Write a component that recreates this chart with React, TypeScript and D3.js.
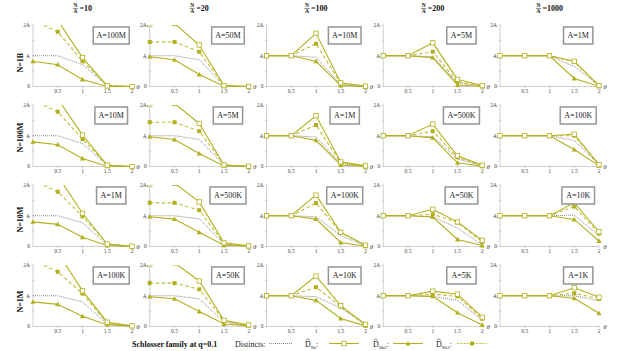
import React from "react";
import * as d3 from "d3";

const thetas = [0, 0.5, 1, 1.5, 2];
const ratioHeaders = ["10", "20", "100", "200", "1000"];
const rowLabels = ["N=1B", "N=100M", "N=10M", "N=1M"];
const sizeLabels = [
  ["A=100M", "A=50M", "A=10M", "A=5M", "A=1M"],
  ["A=10M", "A=5M", "A=1M", "A=500K", "A=100K"],
  ["A=1M", "A=500K", "A=100K", "A=50K", "A=10K"],
  ["A=100K", "A=50K", "A=10K", "A=5K", "A=1K"],
];
const yTickValues = [0, 1, 2];
const yTickLabels = ["0", "A", "2A"];
const yMinorTicks = [0.5, 1.5];
const xTickValues = [0.5, 1, 1.5, 2];
const xTickLabels = ["0.5", "1", "1.5", "2"];

// values in units of A, [row][column][theta]
const distincts = [
  [[1, 1, 0.71, 0.02, 0], [1, 1, 0.87, 0.02, 0], [1, 1, 0.95, 0.05, 0], [1, 1, 0.97, 0.12, 0.01], [1, 1, 1, 0.65, 0.03]],
  [[1, 1, 0.75, 0.03, 0], [1, 1, 0.88, 0.04, 0], [1, 1, 0.96, 0.1, 0.01], [1, 1, 0.97, 0.25, 0.02], [1, 1, 1, 0.85, 0.05]],
  [[1, 1, 0.77, 0.05, 0], [1, 1, 0.9, 0.08, 0], [1, 1, 0.97, 0.35, 0.02], [1, 1, 0.97, 0.6, 0.05], [1, 1, 1, 1.02, 0.35]],
  [[1, 1, 0.8, 0.08, 0.01], [1, 1, 0.9, 0.15, 0.02], [1, 1, 0.97, 0.6, 0.05], [1, 1, 0.98, 0.85, 0.2], [1, 1, 1, 1.0, 0.83]],
];
const dSh = [
  [[2.6, 2.15, 0.94, 0.02, 0], [2.03, 2.05, 1.35, 0.03, 0], [1, 1, 1.73, 0.12, 0.01], [1, 1, 1.42, 0.23, 0.03], [1, 1, 1, 0.82, 0.03]],
  [[2.6, 2.2, 1.02, 0.04, 0], [2.03, 2.05, 1.4, 0.05, 0.01], [1, 1, 1.65, 0.15, 0.02], [1, 1, 1.38, 0.35, 0.04], [1, 1, 1, 1.05, 0.06]],
  [[2.7, 2.3, 1.08, 0.08, 0.01], [2.03, 2.06, 1.45, 0.12, 0.02], [1, 1, 1.67, 0.46, 0.04], [1, 1, 1.21, 0.8, 0.2], [1, 1, 1, 1.42, 0.48]],
  [[2.8, 2.4, 1.16, 0.14, 0.02], [2.03, 2.07, 1.48, 0.2, 0.05], [1, 1, 1.64, 0.68, 0.07], [1, 1, 1.15, 1.05, 0.3], [1, 1, 1, 1.26, 0.95]],
];
const dSh2 = [
  [[0.82, 0.71, 0.23, 0, 0], [0.97, 0.87, 0.39, 0.01, 0], [1, 1, 0.82, 0.03, 0], [1, 1, 0.94, 0.05, 0], [1, 1, 1, 0.26, 0.01]],
  [[0.8, 0.71, 0.26, 0.01, 0], [0.97, 0.88, 0.42, 0.02, 0], [1, 1, 0.85, 0.05, 0], [1, 1, 0.93, 0.12, 0.01], [1, 1, 1, 0.55, 0.02]],
  [[0.8, 0.72, 0.3, 0.03, 0], [0.97, 0.89, 0.46, 0.04, 0.01], [1, 1, 0.89, 0.13, 0.01], [1, 1, 0.96, 0.23, 0.03], [1, 1, 1, 0.88, 0.18]],
  [[0.8, 0.72, 0.33, 0.06, 0.01], [0.97, 0.9, 0.49, 0.08, 0.02], [1, 1, 0.85, 0.26, 0.02], [1, 1, 0.98, 0.45, 0.05], [1, 1, 1, 0.92, 0.43]],
];
const dSh3 = [
  [[2.15, 1.78, 0.82, 0.03, 0], [1.45, 1.45, 1.13, 0.03, 0], [1, 1, 1.39, 0.1, 0.01], [1, 1, 1.13, 0.15, 0.02], [1, 1, 1, 0.8, 0.03]],
  [[2.15, 1.78, 0.89, 0.05, 0], [1.44, 1.44, 1.15, 0.05, 0], [1, 1, 1.35, 0.12, 0.01], [1, 1, 1.15, 0.3, 0.03], [1, 1, 1, 1.0, 0.05]],
  [[2.15, 1.78, 0.98, 0.08, 0.01], [1.42, 1.42, 1.18, 0.1, 0.01], [1, 1, 1.41, 0.45, 0.03], [1, 1, 1.05, 0.78, 0.15], [1, 1, 1, 1.3, 0.42]],
  [[2.15, 1.78, 1.07, 0.1, 0.02], [1.41, 1.41, 1.21, 0.18, 0.04], [1, 1, 1.28, 0.65, 0.05], [1, 1, 1.05, 0.98, 0.25], [1, 1, 1, 1.08, 0.9]],
];

const OLIVE = "#b3b01c";
const OLIVE_LIGHT = "#c0bd38";
const GRAY = "#888888";
const AXIS = "#c4c4c4";
const FONT = "'Liberation Serif', 'DejaVu Serif', serif";

const W = 619;
const H = 351;
const X0 = 33;
const COL_STEP = 116.75;
const PW = 99;
const TOP0 = 25;
const ROW_STEP = 80;
const PH = 61.5;

type Marker = "none" | "open" | "tri" | "filled";

function MarkerShape({ kind, x, y }: { kind: Marker; x: number; y: number }) {
  if (kind === "open")
    return <rect x={x - 2.2} y={y - 2.2} width={4.4} height={4.4} fill="#fff" stroke={OLIVE} strokeWidth={0.8} />;
  if (kind === "filled")
    return <rect x={x - 2} y={y - 2} width={4} height={4} fill={OLIVE} />;
  if (kind === "tri") {
    const s = 2.6;
    return <path d={`M${x},${y - s}L${x + s},${y + s * 0.75}L${x - s},${y + s * 0.75}Z`} fill={OLIVE} />;
  }
  return null;
}

function Series({ values, x, y, color, width, dash, marker }: any) {
  const pts = thetas.map((t, i) => [x(t), y(values[i])] as [number, number]);
  const line = d3.line()(pts) || "";
  return (
    <g>
      <path d={line} fill="none" stroke={color} strokeWidth={width} strokeDasharray={dash} />
      {marker !== "none" && pts.map((p, i) => <MarkerShape key={i} kind={marker} x={p[0]} y={p[1]} />)}
    </g>
  );
}

function Panel({ r, c }: { r: number; c: number }) {
  const x0 = X0 + c * COL_STEP;
  const top = TOP0 + r * ROW_STEP;
  const bottom = top + PH;
  const x = d3.scaleLinear().domain([0, 2]).range([x0, x0 + PW]);
  const y = d3.scaleLinear().domain([0, 2]).range([bottom, top]);
  const clipId = `clip-${r}-${c}`;
  const label = sizeLabels[r][c];
  const boxW = 16 + 3.33 * label.length;
  const boxH = 17;
  const bx = x(1.58);
  const by = top + 10.5;
  const clipTop = y(2);
  return (
    <g>
      <defs>
        <clipPath id={clipId}>
          <rect x={x0 - 4} y={clipTop} width={PW + 8} height={bottom - clipTop + 4} />
        </clipPath>
      </defs>
      <line x1={x0} x2={x0} y1={bottom} y2={top} stroke={AXIS} strokeWidth={0.8} />
      <line x1={x0} x2={x0 + PW} y1={bottom} y2={bottom} stroke={AXIS} strokeWidth={0.8} />
      {yTickValues.concat(yMinorTicks).map((v, i) => (
        <line key={`yt${i}`} x1={x0 - 1.5} x2={x0 + 1.5} y1={y(v)} y2={y(v)} stroke={AXIS} strokeWidth={0.7} />
      ))}
      {xTickValues.map((v, i) => (
        <line key={`xt${i}`} x1={x(v)} x2={x(v)} y1={bottom - 1.5} y2={bottom + 1.5} stroke={AXIS} strokeWidth={0.7} />
      ))}
      {yTickValues.map((v, i) => (
        <text key={`yl${i}`} x={x0 - 3} y={y(v) + 1.8} fontSize={5.5} textAnchor="end" fill="#444" fontFamily={FONT}>
          {yTickLabels[i]}
        </text>
      ))}
      {xTickValues.map((v, i) => (
        <text key={`xl${i}`} x={x(v)} y={bottom + 6.8} fontSize={5.5} textAnchor="middle" fill="#444" fontFamily={FONT}>
          {xTickLabels[i]}
        </text>
      ))}
      <text x={x0 + PW + 6} y={bottom + 2.3} fontSize={7} textAnchor="middle" fill="#444" fontFamily={FONT} fontStyle="italic">
        θ
      </text>
      <g clipPath={`url(#${clipId})`}>
        <Series values={distincts[r][c]} x={x} y={y} color={GRAY} width={1} dash="1,1" marker="none" />
        <Series values={dSh2[r][c]} x={x} y={y} color={OLIVE} width={1.1} marker="tri" />
        <Series values={dSh3[r][c]} x={x} y={y} color={OLIVE_LIGHT} width={1.1} dash="3.5,2.5" marker="filled" />
        <Series values={dSh[r][c]} x={x} y={y} color={OLIVE} width={1.1} marker="open" />
      </g>
      <rect x={bx - boxW / 2} y={by - boxH / 2} width={boxW} height={boxH} fill="#fff" stroke="#959595" strokeWidth={1.5} />
      <text x={bx} y={by + 2.8} fontSize={8} textAnchor="middle" fill="#222" fontFamily={FONT}>
        {label}
      </text>
    </g>
  );
}

function Hat({ x, y }: { x: number; y: number }) {
  return <path d={`M${x},${y}L${x + 2},${y - 1.6}L${x + 4},${y}`} fill="none" stroke="#333" strokeWidth={0.6} />;
}

function LegendD({ x, sub }: { x: number; sub: string }) {
  const by = 347;
  return (
    <g fontFamily={FONT} fill="#222">
      <Hat x={x + 0.8} y={340.3} />
      <text x={x} y={by} fontSize={8}>
        D
        <tspan fontSize={5} dy={1.8}>{sub}</tspan>
        <tspan fontSize={8} dy={-1.8}>:</tspan>
      </text>
    </g>
  );
}

export default function App() {
  const legendY = 343.5;
  return (
    <svg width={W} height={H} style={{ position: "absolute", left: 0, top: 0, background: "#fff" }}>
      {ratioHeaders.map((h, c) => {
        const cx = X0 + c * COL_STEP + PW / 2;
        const eqW = 4.6 + h.length * 4;
        const total = 5 + 1.5 + eqW;
        const sx = cx - total / 2;
        const fx = sx + 2.5;
        return (
          <g key={`h${c}`} fontFamily={FONT} fontWeight="bold" fill="#111">
            <text x={fx} y={7} fontSize={5.5} textAnchor="middle">N</text>
            <line x1={fx - 2.6} x2={fx + 2.6} y1={8.4} y2={8.4} stroke="#111" strokeWidth={0.5} />
            <text x={fx} y={13.4} fontSize={5.5} textAnchor="middle">A</text>
            <text x={sx + 6.5} y={11} fontSize={8}>={h}</text>
          </g>
        );
      })}
      {rowLabels.map((lab, r) => {
        const top = TOP0 + r * ROW_STEP;
        return (
          <text
            key={`r${r}`}
            transform={`translate(22.5, ${top + 47.5}) rotate(-90)`}
            fontSize={8}
            fontWeight="bold"
            fontFamily={FONT}
            fill="#111"
          >
            {lab}
          </text>
        );
      })}
      {rowLabels.map((_, r) => ratioHeaders.map((__, c) => <Panel key={`p${r}-${c}`} r={r} c={c} />))}
      <text x={132} y={347} fontSize={8} fontWeight="bold" fontFamily={FONT} fill="#111">
        Schlosser family at q=0.1
      </text>
      <text x={235} y={347} fontSize={8} fontFamily={FONT} fill="#222">
        Distincts:
      </text>
      <line x1={269} x2={292} y1={legendY} y2={legendY} stroke={GRAY} strokeWidth={1} strokeDasharray="1,1" />
      <LegendD x={305} sub="Sh" />
      <line x1={329} x2={359} y1={legendY} y2={legendY} stroke={OLIVE} strokeWidth={1.1} />
      <MarkerShape kind="open" x={344} y={legendY} />
      <LegendD x={373} sub="Sh2" />
      <line x1={393} x2={423} y1={legendY} y2={legendY} stroke={OLIVE} strokeWidth={1.1} />
      <MarkerShape kind="tri" x={408} y={legendY} />
      <LegendD x={436} sub="Sh3" />
      <line x1={457} x2={487} y1={legendY} y2={legendY} stroke={OLIVE_LIGHT} strokeWidth={1.1} strokeDasharray="2,1.2" />
      <MarkerShape kind="filled" x={472} y={legendY} />
    </svg>
  );
}
